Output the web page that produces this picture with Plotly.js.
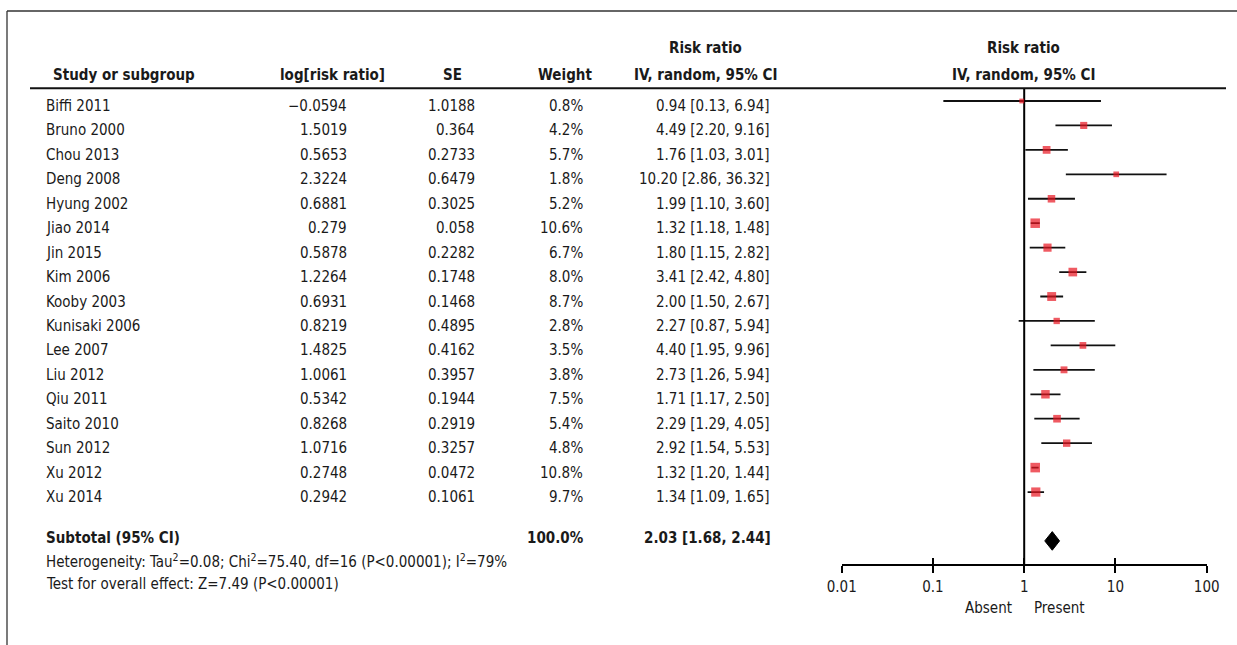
<!DOCTYPE html>
<html>
<head>
<meta charset="utf-8">
<script src="https://cdn.plot.ly/plotly-3.0.1.min.js"></script>
<style>
  html, body { margin: 0; padding: 0; background: #ffffff; }
  #chart { width: 1237px; height: 645px; }
</style>
</head>
<body>
<div id="chart"></div>
<script>
// Study-level data for the random-effects meta-analysis
const studies = ['Biffi 2011', 'Bruno 2000', 'Chou 2013', 'Deng 2008', 'Hyung 2002', 'Jiao 2014',
  'Jin 2015', 'Kim 2006', 'Kooby 2003', 'Kunisaki 2006', 'Lee 2007', 'Liu 2012', 'Qiu 2011',
  'Saito 2010', 'Sun 2012', 'Xu 2012', 'Xu 2014'];
const logRiskRatio = [-0.0594, 1.5019, 0.5653, 2.3224, 0.6881, 0.279, 0.5878, 1.2264, 0.6931,
  0.8219, 1.4825, 1.0061, 0.5342, 0.8268, 1.0716, 0.2748, 0.2942];
const stdError = [1.0188, 0.364, 0.2733, 0.6479, 0.3025, 0.058, 0.2282, 0.1748, 0.1468,
  0.4895, 0.4162, 0.3957, 0.1944, 0.2919, 0.3257, 0.0472, 0.1061];
const weightPct = [0.8, 4.2, 5.7, 1.8, 5.2, 10.6, 6.7, 8.0, 8.7, 2.8, 3.5, 3.8, 7.5, 5.4, 4.8, 10.8, 9.7];
const riskRatio = [0.94, 4.49, 1.76, 10.20, 1.99, 1.32, 1.80, 3.41, 2.00, 2.27, 4.40, 2.73, 1.71,
  2.29, 2.92, 1.32, 1.34];
const ciLower = [0.13, 2.20, 1.03, 2.86, 1.10, 1.18, 1.15, 2.42, 1.50, 0.87, 1.95, 1.26, 1.17,
  1.29, 1.54, 1.20, 1.09];
const ciUpper = [6.94, 9.16, 3.01, 36.32, 3.60, 1.48, 2.82, 4.80, 2.67, 5.94, 9.96, 5.94, 2.50,
  4.05, 5.53, 1.44, 1.65];

// Pooled estimate
const pooledRR = 2.03;
const pooledLower = 1.68;
const pooledUpper = 2.44;
const pooledWeight = 100.0;
const subtotalLabel = 'Subtotal (95% CI)';
const heterogeneityText = 'Heterogeneity: Tau<sup>2</sup>=0.08; Chi<sup>2</sup>=75.40, df=16 (P&lt;0.00001); I<sup>2</sup>=79%';
const overallEffectText = 'Test for overall effect: Z=7.49 (P&lt;0.00001)';

// Axis ticks and side labels
const tickValues = [0.01, 0.1, 1, 10, 100];
const tickLabels = ['0.01', '0.1', '1', '10', '100'];
const favourLeft = 'Absent';
const favourRight = 'Present';

// Column headers
const headerStudy = 'Study or subgroup';
const headerLog = 'log[risk ratio]';
const headerSE = 'SE';
const headerWeight = 'Weight';
const headerRR1 = 'Risk ratio';
const headerRR2 = 'IV, random, 95% CI';

// ---- geometry (pixels of the 1237 x 645 page) ----
const W = 1237, H = 645;
const ROW0 = 101, ROWSTEP = 24.44;         // pixel centre of the first study row, row pitch
const rowY = p => -((p - ROW0) / ROWSTEP);  // pixel row -> y-axis value
const px = x => x / W;                      // pixel column -> paper x
const FONT = "'DejaVu Sans Condensed', 'Liberation Sans', sans-serif";
const TXT = '#1a1a1a';
const FS = 15;
const RED = '#e8141f';

const rows = studies.map((_, i) => -i);
const pooledRow = -18;

const fmt2 = v => v.toFixed(2);
const fmtSigned = v => String(v).replace('-', '\u2212');

// ---- traces ----
// confidence-interval whiskers
const wx = [], wy = [];
studies.forEach((_, i) => { wx.push(ciLower[i], ciUpper[i], null); wy.push(rows[i], rows[i], null); });
const whiskers = {
  type: 'scatter', mode: 'lines', x: wx, y: wy, xaxis: 'x', yaxis: 'y',
  line: { color: '#111111', width: 1.8 }, hoverinfo: 'skip', showlegend: false, cliponaxis: false
};

// vertical line of no effect
const noEffect = {
  type: 'scatter', mode: 'lines', x: [1, 1], y: [rowY(88), rowY(565)], xaxis: 'x', yaxis: 'y',
  line: { color: '#000000', width: 2 }, hoverinfo: 'skip', showlegend: false, cliponaxis: false
};

// weighted point estimates (box size grows with study weight)
const points = {
  type: 'scatter', mode: 'markers', x: riskRatio, y: rows, xaxis: 'x', yaxis: 'y',
  marker: { symbol: 'square', color: RED, size: weightPct.map(w => 3 + 2 * Math.sqrt(w)), line: { width: 0 } },
  hoverinfo: 'skip', showlegend: false, cliponaxis: false
};

// pooled diamond
const halfH = 9.3 / ROWSTEP;
const diamond = {
  type: 'scatter', mode: 'lines', fill: 'toself', fillcolor: '#000000',
  x: [pooledLower, pooledRR, pooledUpper, pooledRR, pooledLower],
  y: [pooledRow, pooledRow + halfH, pooledRow, pooledRow - halfH, pooledRow],
  xaxis: 'x', yaxis: 'y', line: { color: '#000000', width: 1 },
  hoverinfo: 'skip', showlegend: false, cliponaxis: false
};

// ---- table text ----
const ann = [];
function addText(text, xPix, yVal, anchor, bold) {
  ann.push({
    xref: 'paper', yref: 'y', x: px(xPix), y: yVal, text: bold ? '<b>' + text + '</b>' : text,
    xanchor: anchor, yanchor: 'middle', showarrow: false, borderpad: 0,
    font: { family: FONT, size: FS, color: TXT }
  });
}

// headers
addText(headerStudy, 52, rowY(75), 'left', true);
addText(headerLog, 332, rowY(75), 'center', true);
addText(headerSE, 452, rowY(75), 'center', true);
addText(headerWeight, 565, rowY(75), 'center', true);
addText(headerRR1, 705, rowY(48), 'center', true);
addText(headerRR2, 705, rowY(75), 'center', true);
addText(headerRR1, 1023, rowY(48), 'center', true);
addText(headerRR2, 1023, rowY(75), 'center', true);

// study rows
const textShift = 5 / ROWSTEP;
studies.forEach((s, i) => {
  const y = rows[i] - textShift;
  addText(s, 45, y, 'left', false);
  addText(fmtSigned(logRiskRatio[i]), 348, y, 'right', false);
  addText(String(stdError[i]), 476, y, 'right', false);
  addText(weightPct[i].toFixed(1) + '%', 584, y, 'right', false);
  addText(fmt2(riskRatio[i]) + ' [' + fmt2(ciLower[i]) + ', ' + fmt2(ciUpper[i]) + ']', 771, y, 'right', false);
});

// pooled row and statistics
addText(subtotalLabel, 45, rowY(538), 'left', true);
addText(pooledWeight.toFixed(1) + '%', 585, rowY(538), 'right', true);
addText(fmt2(pooledRR) + ' [' + fmt2(pooledLower) + ', ' + fmt2(pooledUpper) + ']', 772, rowY(538), 'right', true);
addText(heterogeneityText, 45, rowY(561), 'left', false);
addText(overallEffectText, 45, rowY(584), 'left', false);

// favour labels under the axis
addText(favourLeft, 1013, rowY(608), 'right', false);
addText(favourRight, 1033, rowY(608), 'left', false);

// ---- layout ----
const xDomain = [px(841.7), px(1206.7)];
const axisPos = 1 - 565 / H;
const baseX = {
  type: 'log', range: [-2, 2], domain: xDomain, anchor: 'free', position: axisPos,
  tickvals: tickValues, ticktext: tickLabels, showgrid: false, zeroline: false, fixedrange: true
};

const layout = {
  width: W, height: H,
  margin: { l: 0, r: 0, t: 0, b: 0, pad: 0 },
  paper_bgcolor: '#ffffff', plot_bgcolor: 'rgba(0,0,0,0)',
  showlegend: false,
  font: { family: FONT, size: FS, color: TXT },
  xaxis: Object.assign({}, baseX, {
    showline: true, linecolor: '#000000', linewidth: 2,
    ticks: 'outside', ticklen: 7, tickwidth: 2, tickcolor: '#000000',
    showticklabels: true, tickfont: { family: FONT, size: FS, color: TXT }, ticklabelstandoff: 1
  }),
  xaxis2: Object.assign({}, baseX, {
    overlaying: 'x', showline: false, ticks: 'inside', ticklen: 7, tickwidth: 2, tickcolor: '#000000',
    showticklabels: false
  }),
  yaxis: {
    domain: [0, 1], range: [rowY(H), rowY(0)], visible: false, fixedrange: true
  },
  shapes: [
    // outer frame (top and left edges)
    { type: 'line', xref: 'paper', yref: 'paper', x0: px(7), x1: 1, y0: 1 - 11 / H, y1: 1 - 11 / H,
      line: { color: '#333333', width: 1.3 } },
    { type: 'line', xref: 'paper', yref: 'paper', x0: px(7), x1: px(7), y0: 0, y1: 1 - 11 / H,
      line: { color: '#333333', width: 1.3 } },
    // rule under the column headers
    { type: 'line', xref: 'paper', yref: 'y', x0: px(30), x1: px(1226), y0: rowY(88.3), y1: rowY(88.3),
      line: { color: '#111111', width: 2 } }
  ],
  annotations: ann
};

// an invisible point keeps the mirrored tick axis drawn
const tickHolder = { type: 'scatter', mode: 'markers', x: [1], y: [rowY(565)], xaxis: 'x2', yaxis: 'y',
  marker: { opacity: 0 }, hoverinfo: 'skip', showlegend: false };

Plotly.newPlot('chart', [whiskers, noEffect, points, diamond, tickHolder], layout,
  { displayModeBar: false, staticPlot: true });
</script>
</body>
</html>
